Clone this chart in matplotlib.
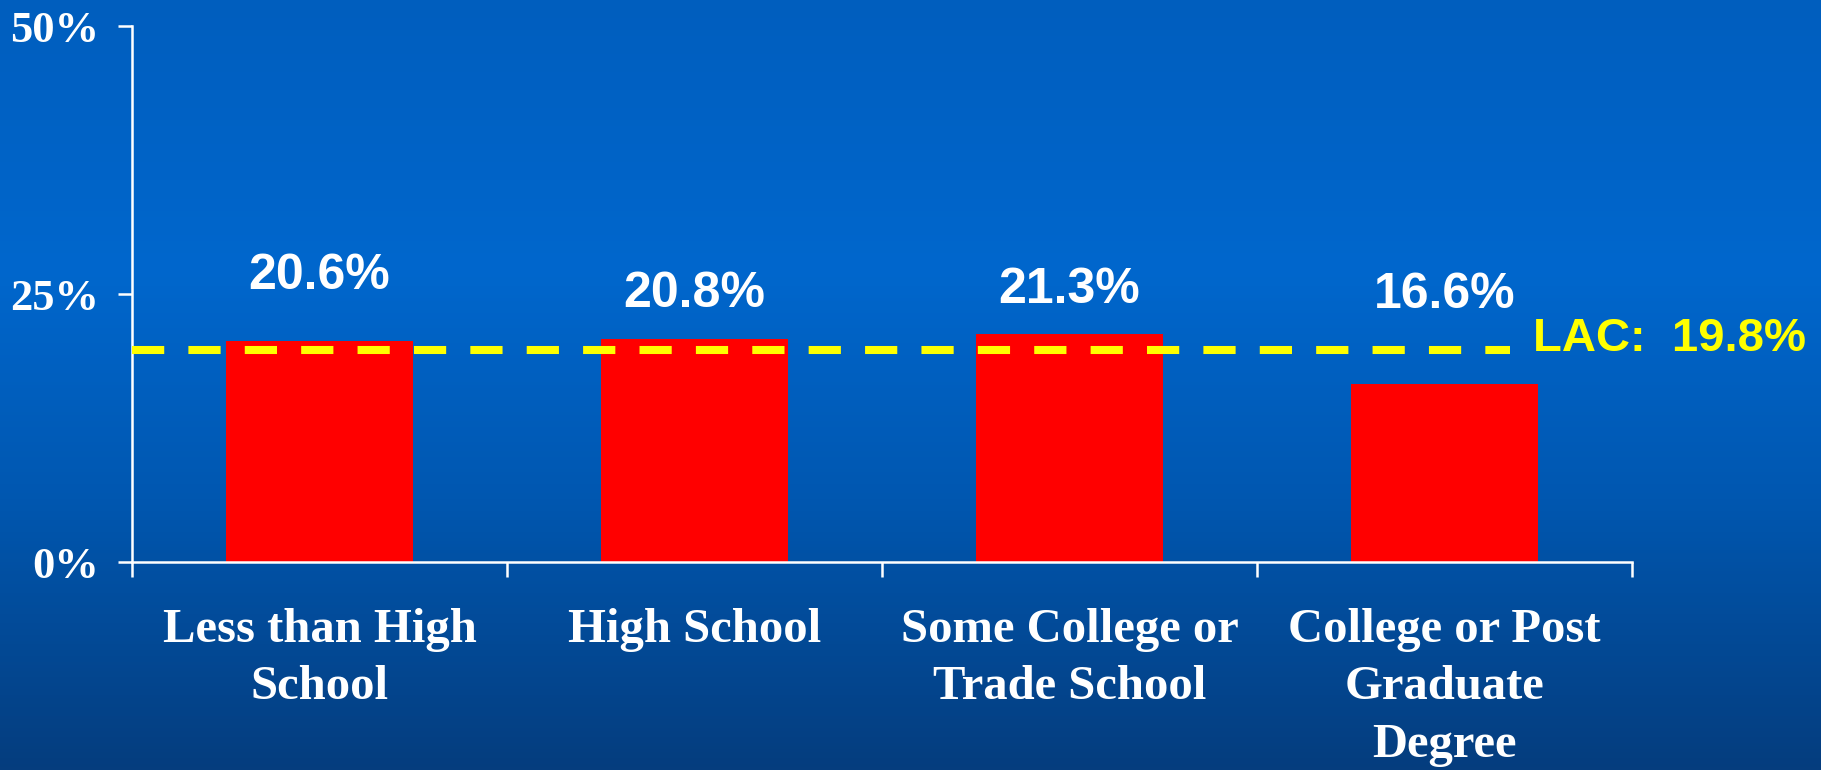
import numpy as np
import matplotlib
matplotlib.use("Agg")
import matplotlib.pyplot as plt
from matplotlib.colors import LinearSegmentedColormap

# ─── Data ────────────────────────────────────────────────────────────────
categories = ["Less than High\nSchool", "High School",
              "Some College or\nTrade School", "College or Post\nGraduate\nDegree"]
values = [20.6, 20.8, 21.3, 16.6]
lac_value = 19.8
yticks = [0, 25, 50]

# label baselines (percent units), placed by hand above each bar
label_y = [25.5, 23.8, 24.2, 23.7]

SERIF = ["Liberation Serif", "DejaVu Serif"]
SANS = ["Liberation Sans", "DejaVu Sans"]

fig = plt.figure(figsize=(18.21, 7.70), dpi=100)

# blue slide background, darker toward the bottom
bg = fig.add_axes([0, 0, 1, 1], zorder=-10)
cmap = LinearSegmentedColormap.from_list(
    "slide", [(0.0, "#005EBE"), (0.35, "#0067CD"), (0.65, "#0057B0"), (1.0, "#053D7E")])
grad = np.linspace(0, 1, 256).reshape(-1, 1)
bg.imshow(grad, aspect="auto", cmap=cmap, extent=[0, 1, 0, 1], origin="upper")
bg.set_axis_off()

ax = fig.add_axes([132 / 1821, 1 - 562 / 770, 1500 / 1821, 536 / 770])
ax.set_facecolor("none")

x = np.arange(len(values))
ax.bar(x, values, width=0.5, color="#FF0000", zorder=2)

for xi, v, ly in zip(x, values, label_y):
    ax.text(xi, ly, f"{v}%", ha="center", va="baseline", color="white",
            fontsize=36, fontweight="bold", family=SANS, zorder=4)

# LAC reference line
ax.plot([-0.5, 3.175], [lac_value, lac_value], color="#FFFF00", lw=5.8,
        dashes=(4, 3), solid_capstyle="butt", dash_capstyle="butt", zorder=3)
ax.text(3.235, 19.7, f"LAC:  {lac_value}%", ha="left", va="baseline",
        color="#FFFF00", fontsize=34, fontweight="bold", family=SANS)

# Axes
ax.set_xlim(-0.5, 3.5)
ax.set_ylim(0, 50)
for side in ("top", "right"):
    ax.spines[side].set_visible(False)
for side in ("left", "bottom"):
    ax.spines[side].set_color("white")
    ax.spines[side].set_linewidth(1.8)

ax.set_yticks(yticks)
ax.set_yticklabels([f"{t}%" for t in yticks])
ax.tick_params(axis="y", colors="white", length=10, width=1.8, pad=14,
               labelsize=32)
for lab in ax.get_yticklabels():
    lab.set_family(SERIF)
    lab.set_fontweight("bold")
    lab.set_verticalalignment("center_baseline")

# category boundaries carry the tick marks, labels sit at bar centres
ax.set_xticks(np.arange(-0.5, 4.0, 1.0))
ax.set_xticklabels([])
ax.tick_params(axis="x", which="major", direction="out", colors="white",
               length=11, width=1.8)
ax.set_xticks(x, minor=True)
ax.set_xticklabels(categories, minor=True)
ax.tick_params(axis="x", which="minor", length=0, pad=33, labelsize=35,
               labelcolor="white")
for lab in ax.get_xticklabels(minor=True):
    lab.set_family(SERIF)
    lab.set_fontweight("bold")
    lab.set_verticalalignment("top")
    lab.set_linespacing(1.40)

fig.savefig("out.png", dpi=100, facecolor="#0062C4")
plt.close(fig)
